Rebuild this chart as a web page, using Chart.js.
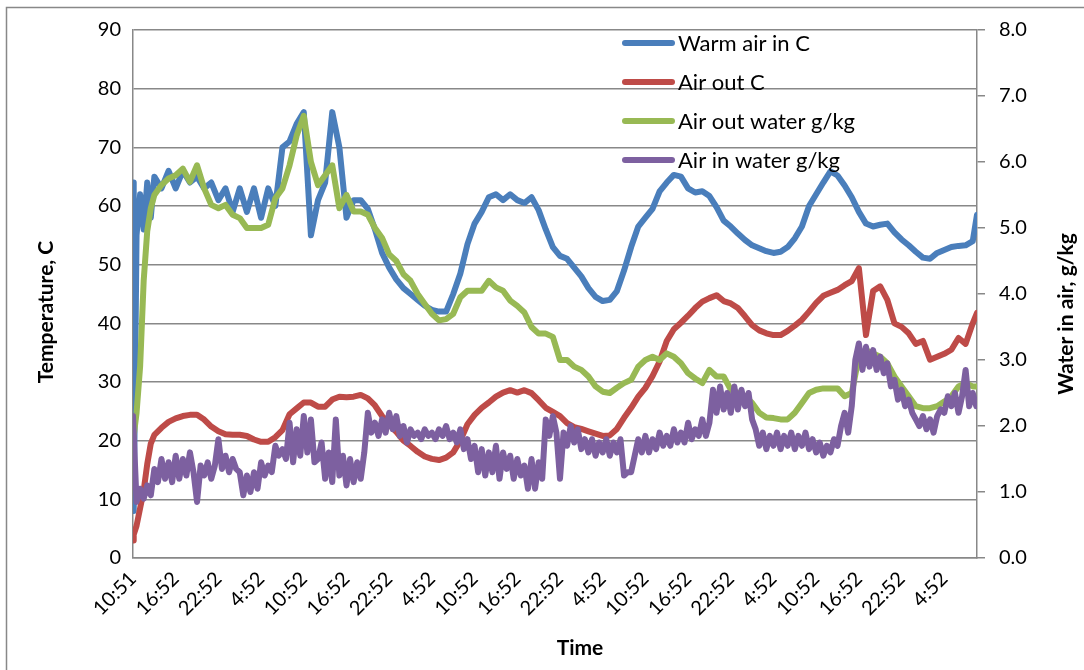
<!DOCTYPE html>
<html>
<head>
<meta charset="utf-8">
<script src="https://cdn.jsdelivr.net/npm/chart.js@4.4.0/dist/chart.umd.min.js"></script>
<style>
  body { margin: 0; background: #fff; }
  #wrap { width: 1084px; height: 670px; }
</style>
</head>
<body>
<div id="wrap"><canvas id="mycanvas" width="1084" height="670"></canvas></div>
<script>
// hours since the start of the run (10:51)
var hours = [0, 0.1, 0.5, 1, 1.5, 2, 2.5, 3,
  4, 5, 6, 7, 8, 9, 10, 11, 12, 13,
  14, 15, 16, 17, 18, 19, 20, 21, 22, 23,
  24, 25, 26, 27, 28, 29, 30, 31, 32, 33,
  34, 35, 36, 37, 38, 39, 40, 41, 42, 43,
  44, 45, 46, 47, 48, 49, 50, 51, 52, 53,
  54, 55, 56, 57, 58, 59, 60, 61, 62, 63,
  64, 65, 66, 67, 68, 69, 70, 71, 72, 73,
  74, 75, 76, 77, 78, 79, 80, 81, 82, 83,
  84, 85, 86, 87, 88, 89, 90, 91, 92, 93,
  94, 95, 96, 97, 98, 99, 100, 101, 102, 103,
  104, 105, 106, 107, 108, 109, 110, 111, 112, 113,
  114, 115, 116, 117, 118, 118.6];

// the air-in water probe is noisier, read every half hour
var inWaterHours = [0, 0.5, 1, 1.5, 2, 2.5, 3, 3.5, 4, 4.5, 5, 5.5,
  6, 6.5, 7, 7.5, 8, 8.5, 9, 9.5, 10, 10.5, 11, 11.5,
  12, 12.5, 13, 13.5, 14, 14.5, 15, 15.5, 16, 16.5, 17, 17.5,
  18, 18.5, 19, 19.5, 20, 20.5, 21, 21.5, 22, 22.5, 23, 23.5,
  24, 24.5, 25, 25.5, 26, 26.5, 27, 27.5, 28, 28.5, 29, 29.5,
  30, 30.5, 31, 31.5, 32, 32.5, 33, 33.5, 34, 34.5, 35, 35.5,
  36, 36.5, 37, 37.5, 38, 38.5, 39, 39.5, 40, 40.5, 41, 41.5,
  42, 42.5, 43, 43.5, 44, 44.5, 45, 45.5, 46, 46.5, 47, 47.5,
  48, 48.5, 49, 49.5, 50, 50.5, 51, 51.5, 52, 52.5, 53, 53.5,
  54, 54.5, 55, 55.5, 56, 56.5, 57, 57.5, 58, 58.5, 59, 59.5,
  60, 60.5, 61, 61.5, 62, 62.5, 63, 63.5, 64, 64.5, 65, 65.5,
  66, 66.5, 67, 67.5, 68, 68.5, 69, 69.5, 70, 70.5, 71, 71.5,
  72, 72.5, 73, 73.5, 74, 74.5, 75, 75.5, 76, 76.5, 77, 77.5,
  78, 78.5, 79, 79.5, 80, 80.5, 81, 81.5, 82, 82.5, 83, 83.5,
  84, 84.5, 85, 85.5, 86, 86.5, 87, 87.5, 88, 88.5, 89, 89.5,
  90, 90.5, 91, 91.5, 92, 92.5, 93, 93.5, 94, 94.5, 95, 95.5,
  96, 96.5, 97, 97.5, 98, 98.5, 99, 99.5, 100, 100.5, 101, 101.5,
  102, 102.5, 103, 103.5, 104, 104.5, 105, 105.5, 106, 106.5, 107, 107.5,
  108, 108.5, 109, 109.5, 110, 110.5, 111, 111.5, 112, 112.5, 113, 113.5,
  114, 114.5, 115, 115.5, 116, 116.5, 117, 117.5, 118, 118.5];

var tickHours = [0, 6, 12, 18, 24, 30, 36, 42, 48, 54, 60, 66, 72, 78, 84, 90, 96, 102, 108, 114];
var tickLabels = ['10:51', '16:52', '22:52', '4:52', '10:52', '16:52', '22:52', '4:52', '10:52', '16:52',
  '22:52', '4:52', '10:52', '16:52', '22:52', '4:52', '10:52', '16:52', '22:52', '4:52'];

// temperatures, C (left axis)
var warmAirIn = [64, 8, 55, 62, 56, 64, 58, 65,
  63, 66, 63, 66, 64, 65, 63, 64, 61, 63,
  59, 63, 59, 63, 58, 63, 60, 70, 71, 74,
  76, 55, 61, 64, 76, 70, 58, 61, 61, 59.5,
  56, 52, 49.5, 47.5, 46, 45, 44, 43, 42.3, 42,
  42, 45, 48.5, 53.5, 57, 59, 61.5, 62, 61, 62,
  61, 60.5, 61.5, 59.3, 56, 53, 51.5, 51, 49.5, 48,
  46, 44.5, 43.8, 44, 45.5, 49, 53, 56.5, 58, 59.5,
  62.5, 64, 65.3, 65, 63, 62.3, 62.5, 61.7, 59.8, 57.5,
  56.5, 55.3, 54.2, 53.3, 52.8, 52.3, 52, 52.2, 53, 54.5,
  56.5, 60, 62, 64, 65.9, 65.2, 63.5, 61.5, 59, 57,
  56.5, 56.8, 57, 55.5, 54.3, 53.3, 52.2, 51.2, 51, 52,
  52.5, 53, 53.2, 53.3, 54, 58.5];

var airOut = [3, 4, 5.5, 8.5, 11.5, 16, 19.5, 21,
  22.2, 23.2, 23.8, 24.2, 24.4, 24.4, 23.6, 22.4, 21.6, 21.1,
  21, 21, 20.8, 20.2, 19.8, 19.8, 20.6, 21.8, 24.5, 25.5,
  26.5, 26.5, 25.8, 25.8, 27, 27.5, 27.4, 27.5, 27.8, 27.2,
  26, 24.2, 22.8, 21.5, 20, 19.1, 18.1, 17.3, 16.9, 16.7,
  17.1, 18, 20, 22.8, 24.4, 25.6, 26.5, 27.5, 28.2, 28.6,
  28.2, 28.6, 28.1, 26.9, 25.6, 24.9, 24.2, 23, 22.3, 22,
  21.6, 21.2, 20.8, 20.9, 22, 23.9, 25.6, 27.5, 29, 31,
  33.5, 37, 39, 40.1, 41.3, 42.6, 43.7, 44.3, 44.8, 43.8,
  43.4, 42.6, 41.2, 39.7, 38.8, 38.3, 38, 38, 38.7, 39.6,
  40.6, 42, 43.5, 44.7, 45.2, 45.7, 46.5, 47.2, 49.4, 38,
  45.5, 46.3, 44, 40, 39.4, 38.3, 36.5, 37, 33.8, 34.3,
  34.8, 35.5, 37.5, 36.5, 40, 41.8];

// water, g/kg (right axis)
var airOutWater = [1.8, 1.85, 2.2, 2.9, 4.2, 4.95, 5.3, 5.5,
  5.65, 5.75, 5.8, 5.9, 5.7, 5.95, 5.6, 5.35, 5.3, 5.35,
  5.2, 5.15, 5.0, 5.0, 5.0, 5.05, 5.45, 5.6, 5.95, 6.4,
  6.7, 6.0, 5.65, 5.8, 5.95, 5.3, 5.5, 5.25, 5.25, 5.2,
  5.0, 4.85, 4.6, 4.5, 4.3, 4.2, 4.0, 3.85, 3.7, 3.6,
  3.62, 3.7, 3.95, 4.05, 4.05, 4.05, 4.2, 4.1, 4.05, 3.9,
  3.82, 3.72, 3.5, 3.4, 3.4, 3.35, 3.0, 3.0, 2.9, 2.85,
  2.75, 2.6, 2.52, 2.5, 2.58, 2.65, 2.7, 2.9, 3.0, 3.05,
  3.0, 3.1, 3.05, 2.95, 2.8, 2.72, 2.65, 2.85, 2.75, 2.75,
  2.55, 2.5, 2.45, 2.35, 2.2, 2.13, 2.12, 2.1, 2.1, 2.2,
  2.35, 2.5, 2.55, 2.57, 2.57, 2.57, 2.45, 2.5, 3.05, 3.15,
  3.1, 3.05, 2.95, 2.75, 2.6, 2.45, 2.3, 2.27, 2.27, 2.3,
  2.37, 2.45, 2.6, 2.65, 2.6, 2.6];

var airInWater = [2.15, 0.85, 1.05, 0.9, 1.1, 0.95, 1.35, 1.15, 1.5, 1.2, 1.45, 1.15,
  1.55, 1.2, 1.5, 1.25, 1.6, 1.3, 0.85, 1.4, 1.25, 1.45, 1.2, 1.4,
  1.8, 1.35, 1.55, 1.3, 1.5, 1.35, 1.3, 0.95, 1.25, 1.0, 1.3, 1.05,
  1.45, 1.25, 1.4, 1.3, 1.7, 1.55, 1.65, 1.5, 2.05, 1.45, 1.95, 1.55,
  2.15, 1.6, 2.1, 1.45, 1.5, 1.75, 1.2, 1.6, 1.15, 2.1, 1.25, 1.55,
  1.1, 1.5, 1.15, 1.45, 1.2, 1.6, 2.2, 1.9, 2.05, 1.85, 2.1, 1.9,
  2.2, 1.95, 2.15, 1.85, 2.0, 1.75, 1.95, 1.85, 1.9, 1.8, 1.95, 1.85,
  1.9, 1.8, 1.95, 1.85, 2.0, 1.8, 1.9, 1.75, 1.95, 1.65, 1.8, 1.5,
  1.7, 1.3, 1.65, 1.25, 1.6, 1.3, 1.7, 1.2, 1.6, 1.35, 1.55, 1.2,
  1.5, 1.25, 1.4, 1.05, 1.5, 1.05, 1.45, 1.2, 2.1, 1.85, 2.15, 1.9,
  1.2, 1.9, 1.7, 2.0, 1.75, 1.95, 1.65, 1.8, 1.6, 1.8, 1.55, 1.75,
  1.6, 1.8, 1.55, 1.75, 1.6, 1.8, 1.25, 1.3, 1.3, 1.55, 1.8, 1.6,
  1.85, 1.6, 1.8, 1.65, 1.9, 1.7, 1.85, 1.7, 1.95, 1.75, 1.9, 1.75,
  2.05, 1.8, 1.95, 1.85, 2.1, 1.85, 2.05, 2.55, 2.2, 2.6, 2.25, 2.5,
  2.2, 2.6, 2.25, 2.55, 2.3, 2.5, 2.1, 1.95, 1.7, 1.9, 1.65, 1.85,
  1.7, 1.9, 1.65, 1.85, 1.7, 1.9, 1.65, 1.85, 1.7, 1.9, 1.65, 1.8,
  1.6, 1.75, 1.55, 1.7, 1.6, 1.8, 1.7, 2.0, 2.2, 1.9, 2.3, 3.0,
  3.25, 2.85, 3.2, 2.9, 3.15, 2.85, 3.05, 2.8, 2.95, 2.6, 2.7, 2.4,
  2.55, 2.3, 2.4, 2.2, 2.1, 2.0, 2.15, 1.95, 2.1, 1.9, 2.15, 2.25,
  2.2, 2.45, 2.3, 2.5, 2.2, 2.45, 2.85, 2.3, 2.5, 2.3];

function pts(xs, vals) {
  return xs.map(function(h, i) { return { x: h, y: vals[i] }; });
}

var gridGray = '#888888';
Chart.defaults.font.family = 'Lato, "Liberation Sans", sans-serif';
Chart.defaults.font.size = 20;
Chart.defaults.color = '#000';

// border, axis titles and the legend box inside the plot
var chartDecor = {
  id: 'chartDecor',
  beforeDraw: function(chart) {
    var c = chart.ctx;
    c.save();
    c.fillStyle = '#fff';
    c.fillRect(0, 0, chart.width, chart.height);
    c.strokeStyle = gridGray;
    c.lineWidth = 1.5;
    c.strokeRect(6.5, 7.5, 1200, 1000);
    c.restore();
  },
  afterDraw: function(chart) {
    var c = chart.ctx;
    c.save();
    c.fillStyle = '#000';
    c.font = 'bold 21px Lato, sans-serif';
    c.textAlign = 'center';
    c.textBaseline = 'middle';
    c.fillText('Time', 580, 648);
    c.translate(46, 312);
    c.rotate(-Math.PI / 2);
    c.fillText('Temperature, C', 0, 0);
    c.restore();
    c.save();
    c.font = 'bold 21px Lato, sans-serif';
    c.textAlign = 'center';
    c.textBaseline = 'middle';
    c.translate(1066, 314);
    c.rotate(-Math.PI / 2);
    c.fillText('Water in air, g/kg', 0, 0);
    c.restore();

    var rows = [43, 82, 121, 160];
    c.save();
    c.font = '22px Lato, sans-serif';
    c.textBaseline = 'middle';
    c.lineCap = 'round';
    c.lineWidth = 6;
    chart.data.datasets.forEach(function(ds, i) {
      c.strokeStyle = ds.borderColor;
      c.beginPath();
      c.moveTo(625, rows[i]);
      c.lineTo(672, rows[i]);
      c.stroke();
      c.fillStyle = '#000';
      c.fillText(ds.label, 678, rows[i] + 1);
    });
    c.restore();
  }
};

var ctx = document.getElementById('mycanvas');

var myChart = new Chart(ctx, {
  type: 'line',
  data: {
    datasets: [
      { label: 'Warm air in C', data: pts(hours, warmAirIn), borderColor: '#4A7EBB', yAxisID: 'y', order: 4 },
      { label: 'Air out C', data: pts(hours, airOut), borderColor: '#BE4B48', yAxisID: 'y', order: 3 },
      { label: 'Air out water g/kg', data: pts(hours, airOutWater), borderColor: '#98B954', yAxisID: 'y1', order: 2 },
      { label: 'Air in water g/kg', data: pts(inWaterHours, airInWater), borderColor: '#7D60A0', yAxisID: 'y1', order: 1 }
    ]
  },
  options: {
    responsive: false,
    animation: false,
    layout: { padding: { top: 30, left: 0, right: 0, bottom: 0 } },
    plugins: { legend: { display: false }, tooltip: { enabled: false } },
    elements: {
      point: { radius: 0 },
      line: { borderWidth: 6, borderJoinStyle: 'round', borderCapStyle: 'round', tension: 0, fill: false }
    },
    scales: {
      x: {
        type: 'linear', min: 0, max: 118.6,
        afterBuildTicks: function(s) { s.ticks = tickHours.map(function(v) { return { value: v }; }); },
        ticks: {
          autoSkip: false, minRotation: 45, maxRotation: 45, padding: 9,
          callback: function(v) { return tickLabels[tickHours.indexOf(v)]; }
        },
        grid: { display: false, drawTicks: false },
        border: { display: true, color: gridGray, width: 1.5 },
        afterFit: function(s) { s.height = 112; }
      },
      y: {
        position: 'left', min: 0, max: 90,
        ticks: { stepSize: 10, padding: 12 },
        grid: { color: gridGray, lineWidth: 1.5, drawTicks: false },
        border: { color: gridGray, width: 1.5 },
        afterFit: function(s) { s.width = 133; }
      },
      y1: {
        position: 'right', min: 0, max: 8,
        ticks: { stepSize: 1, padding: 14, callback: function(v) { return v.toFixed(1); } },
        grid: { drawOnChartArea: false, color: gridGray, lineWidth: 1.5, tickLength: 8 },
        border: { color: gridGray, width: 1.5 },
        afterFit: function(s) { s.width = 107; }
      }
    }
  },
  plugins: [chartDecor]
});
</script>
</body>
</html>
